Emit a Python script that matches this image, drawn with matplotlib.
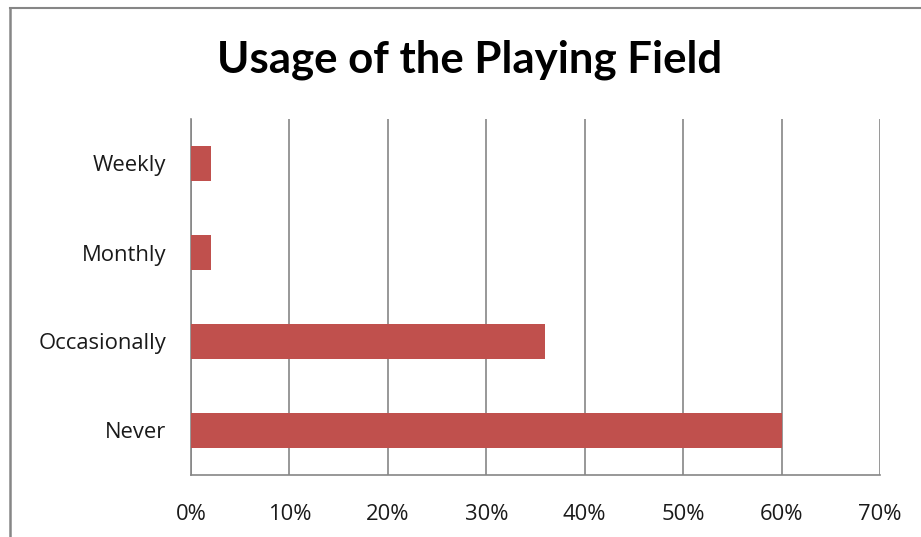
import matplotlib
matplotlib.use("Agg")
import matplotlib.pyplot as plt
from matplotlib.lines import Line2D
from matplotlib.ticker import FuncFormatter

# Survey responses: how often the playing field is used
categories = ["Never", "Occasionally", "Monthly", "Weekly"]
shares = [60, 36, 2, 2]
ticks = [0, 10, 20, 30, 40, 50, 60, 70]

bar_color = "#C0504D"
grid_color = "#868686"
label_font = ["Open Sans", "DejaVu Sans"]
title_font = ["Lato", "DejaVu Sans"]

fig = plt.figure(figsize=(9.21, 5.37), dpi=100)
ax = fig.add_axes([191 / 921, 1 - 475 / 537, 689 / 921, 356 / 537])

ax.barh(range(len(categories)), shares, height=0.4, color=bar_color, zorder=3)

ax.set_xlim(0, 70)
ax.set_ylim(-0.5, len(categories) - 0.5)
ax.set_xticks(ticks)
ax.xaxis.set_major_formatter(FuncFormatter(lambda v, _: f"{v:.0f}%"))
ax.set_yticks(range(len(categories)))
ax.set_yticklabels(categories)

ax.grid(axis="x", color=grid_color, linewidth=1.2, zorder=0)
ax.tick_params(axis="x", length=0, pad=21)
ax.tick_params(axis="y", length=0, pad=18)
ax.tick_params(labelsize=15.8, labelcolor="#1a1a1a")
for lab in ax.get_xticklabels() + ax.get_yticklabels():
    lab.set_family(label_font)

for side in ("top", "right"):
    ax.spines[side].set_visible(False)
for side in ("left", "bottom"):
    ax.spines[side].set_color(grid_color)
    ax.spines[side].set_linewidth(1.2)

fig.text(470 / 921, 1 - 60 / 537, "Usage of the Playing Field", ha="center",
         va="center", fontsize=31.5, fontweight="bold", family=title_font)

# chart frame, cut off at the right and bottom edges
fig.add_artist(Line2D([9.5 / 921, 9.5 / 921], [0, 1 - 8 / 537],
                      color=grid_color, linewidth=1.8, transform=fig.transFigure))
fig.add_artist(Line2D([9.5 / 921, 1], [1 - 8 / 537, 1 - 8 / 537],
                      color=grid_color, linewidth=1.5, transform=fig.transFigure))

fig.savefig("out.png", dpi=100)
